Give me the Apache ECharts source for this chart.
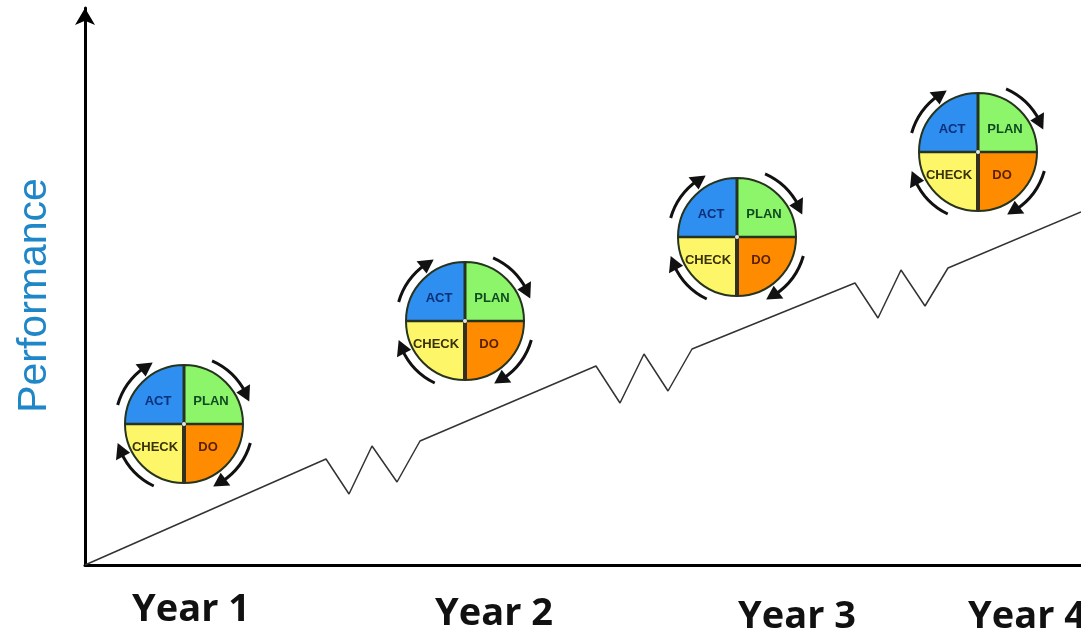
<!DOCTYPE html>
<html><head><meta charset="utf-8">
<style>html,body{margin:0;padding:0;background:#fff}#c{width:1081px;height:632px}</style>
<script src="https://cdn.jsdelivr.net/npm/echarts@6/dist/echarts.min.js"></script>
</head><body><div id="c"></div>
<script>
var trendX = [0,241,264,287,312,335,511,535,559,583,607,770,793,816,840,863,996];
var trendY = [0,106,71,119,83,124,199,162,211,174,216,282,247,295,259,297,353];
var wheelX = [99,380,652,893];
var wheelY = [141,244,328,413];
var yearTicks = [106,409,712,942];
var yearLabels = ['Year 1','Year 2','Year 3','Year 4'];
var quadrants = ['PLAN','DO','CHECK','ACT'];

var chart = echarts.init(document.getElementById('c'));
var R = 59, RA = 69, D = Math.PI/180;
var fills = ['#8cf56a','#ff8c00','#fdf668','#2f8ff0'];
var inks = ['#0f4a22','#5a1f05','#3a3208','#0b2f78'];
var textPos = [[27,-23],[24,23],[-29,23],[-26,-23]];
var arcs = [[294,340],[16,64],[116,163],[196,242]];

function renderWheel(params, api){
  var c = api.coord([api.value(0), api.value(1)]);
  var kids = [];
  quadrants.forEach(function(q,i){
    var a = -90 + i*90;
    kids.push({type:'sector',shape:{cx:c[0],cy:c[1],r:R,r0:0,startAngle:a*D,endAngle:(a+90)*D,clockwise:true},
      style:{fill:fills[i],stroke:'#26331f',lineWidth:2}});
  });
  kids.push({type:'line',shape:{x1:c[0],y1:c[1],x2:c[0],y2:c[1]+R},style:{stroke:'#33301f',lineWidth:4}});
  kids.push({type:'line',shape:{x1:c[0],y1:c[1]-R,x2:c[0],y2:c[1]},style:{stroke:'#26331f',lineWidth:3}});
  kids.push({type:'line',shape:{x1:c[0]-R,y1:c[1],x2:c[0]+R,y2:c[1]},style:{stroke:'#26331f',lineWidth:2.5}});
  kids.push({type:'circle',shape:{cx:c[0],cy:c[1],r:2},style:{fill:'#e8e8e8'}});
  quadrants.forEach(function(q,i){
    kids.push({type:'text',style:{text:q,x:c[0]+textPos[i][0],y:c[1]+textPos[i][1],align:'center',verticalAlign:'middle',
      fill:inks[i],font:'bold 13px "Liberation Sans"'}});
  });
  arcs.forEach(function(arc){
    kids.push({type:'arc',shape:{cx:c[0],cy:c[1],r:RA,startAngle:arc[0]*D,endAngle:(arc[1]-7)*D,clockwise:true},
      style:{stroke:'#111',fill:null,lineWidth:3}});
    var e=(arc[1]+1)*D, b=(arc[1]-11)*D;
    kids.push({type:'polygon',shape:{points:[
      [c[0]+RA*Math.cos(e),c[1]+RA*Math.sin(e)],
      [c[0]+(RA+8)*Math.cos(b),c[1]+(RA+8)*Math.sin(b)],
      [c[0]+(RA-8)*Math.cos(b),c[1]+(RA-8)*Math.sin(b)]]},style:{fill:'#111'}});
  });
  return {type:'group',children:kids};
}

var yearRich = {};
var yearPad = [0,4,7,7];
yearLabels.forEach(function(l,i){
  yearRich['y'+i] = {fontFamily:'Open Sans',fontWeight:'bold',fontSize:38,color:'#111',padding:[yearPad[i],0,0,0]};
});

chart.setOption({
  animation:false,
  backgroundColor:'#fff',
  grid:{left:85,right:0,top:8,bottom:67,outerBoundsMode:'none'},
  xAxis:{type:'value',min:0,max:996,
    axisLine:{show:true,onZero:false,lineStyle:{color:'#000',width:3}},
    axisTick:{show:false},splitLine:{show:false},
    axisLabel:{show:true,customValues:yearTicks,margin:26,hideOverlap:false,showMinLabel:true,showMaxLabel:true,
      formatter:function(v){var i=yearTicks.indexOf(v);return '{y'+i+'|'+yearLabels[i]+'}';},rich:yearRich}
  },
  yAxis:{type:'value',min:0,max:557,name:'Performance',nameLocation:'middle',nameGap:30,
    nameTextStyle:{fontFamily:'Liberation Sans',fontSize:41,color:'#1f86c8',padding:[0,18,0,0]},
    axisLine:{show:true,onZero:false,symbol:['none','arrow'],symbolSize:[15,17],lineStyle:{color:'#000',width:3}},
    axisTick:{show:false},axisLabel:{show:false},splitLine:{show:false}},
  series:[
    {type:'line',data:trendX.map(function(x,i){return [x,trendY[i]];}),showSymbol:false,symbol:'none',
      lineStyle:{color:'#333',width:1.5},z:2},
    {type:'custom',renderItem:renderWheel,clip:false,data:wheelX.map(function(x,i){return [x,wheelY[i]];}),z:3}
  ]
});
</script></body></html>
